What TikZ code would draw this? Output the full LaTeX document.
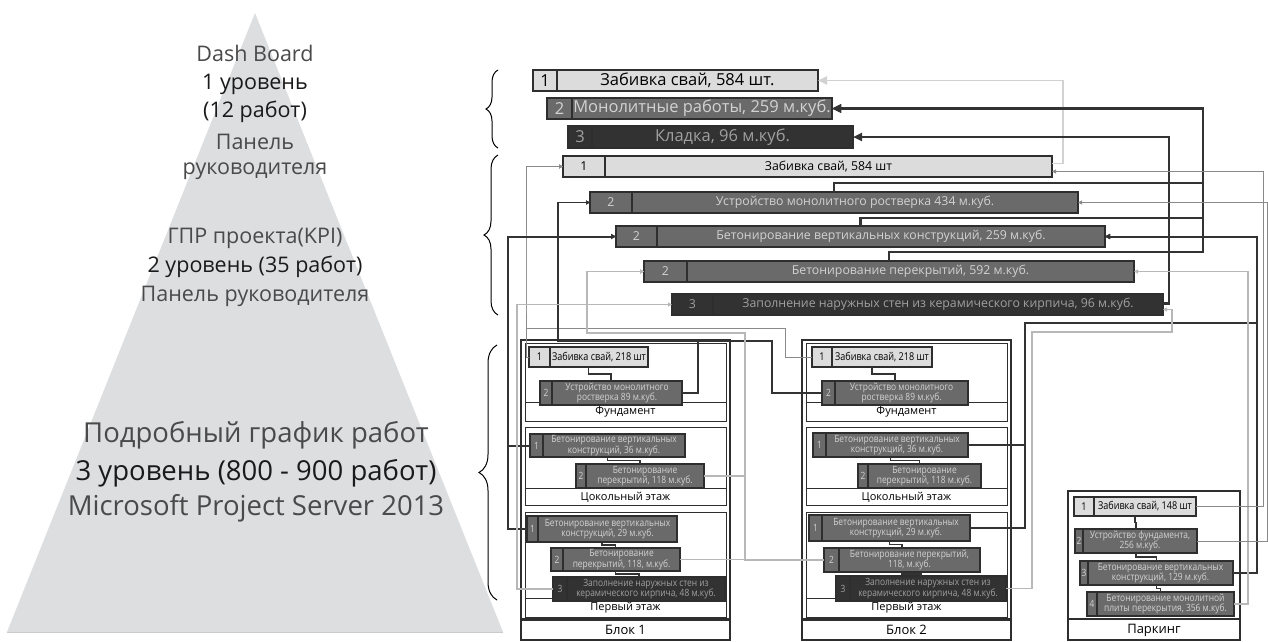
\documentclass[tikz,border=0pt]{standalone}
\usepackage{fontspec}
\setmainfont{Open Sans}
\newfontfamily\itemfont[FakeStretch=0.84]{Open Sans}
\usetikzlibrary{calc,decorations.pathreplacing,arrows.meta}
\definecolor{pyr}{HTML}{DDDEE0}
\definecolor{barL}{HTML}{DCDCDC}
\definecolor{barM}{HTML}{6A6A6A}
\definecolor{barD}{HTML}{323232}
\definecolor{txtM}{HTML}{D2D2D2}
\definecolor{txtD}{HTML}{A0A0A0}
\definecolor{edge}{HTML}{2E2E2E}
\definecolor{lnDark}{HTML}{333333}
\definecolor{lnGrey}{HTML}{8A8A8A}
\definecolor{lnLight}{HTML}{B8B8B8}
\definecolor{lnPale}{HTML}{D2D2D2}
\definecolor{pyrL}{HTML}{4A4A4A}
\definecolor{pyrD}{HTML}{1A1A1A}
\newcommand\fsz[2]{\fontsize{#1}{#2}\selectfont}
\newcommand\wbar[9]{%
  \node[barbox,#2,anchor=north west,minimum width={(#5-#3)*1pt},minimum height={(#6-#4)*1pt}] (#1) at (#3,#4) {};
  \draw[draw=edge] (#7,#4) -- (#7,#6);
  \node[bartext,#2,fill=none] at ({(#3+#7)/2},{(#4+#6)/2}) {#8};
  \node[bartext,#2,fill=none] at ({(#7+#5)/2},{(#4+#6)/2}) {#9};
}
\newcommand\ilink[2]{\draw[ilinkst] (#1.south) -- ($(#1.south)!.5!(#1.south|-#2.north)$) -| (#2.north);}
\begin{document}
\begin{tikzpicture}[x=1pt,y=-1pt,
  barbox/.style={draw=edge,inner sep=0pt,outer sep=0pt},
  bartext/.style={inner sep=0pt,align=center},
  lightbar/.style={fill=barL,text=black},
  midbar/.style={fill=barM,text=txtM},
  darkbar/.style={fill=barD,text=txtD},
  big/.style={font=\itemfont\fsz{10.8}{11}},
  pL/.style={text=pyrL,inner sep=0pt},
  pD/.style={text=pyrD,inner sep=0pt},
  toA/.style={draw=lnDark,line width=2.2pt,-{Triangle[length=9pt,width=8pt]}},
  toApale/.style={draw=lnPale,line width=1.8pt,-{Triangle[length=9pt,width=8pt]}},
  cDark/.style={draw=lnDark,line width=1.5pt,-{Triangle[length=4pt,width=4pt]}},
  cDarkT/.style={draw=lnDark,line width=2pt,-{Triangle[length=5pt,width=5pt]}},
  cGrey/.style={draw=lnGrey,line width=1pt,-{Triangle[length=4pt,width=4pt]}},
  cLight/.style={draw=lnLight,line width=1.2pt,-{Triangle[length=4pt,width=4pt]}},
  ilinkst/.style={draw=lnDark,line width=1.2pt},
  frameO/.style={draw=edge,line width=2.2pt},
  frameI/.style={draw=edge,line width=1pt},
  flabel/.style={font=\fsz{11}{13},inner sep=0pt},
  blabel/.style={font=\fsz{13}{15},inner sep=0pt},
  brc/.style={draw=black,line width=1pt,decorate,decoration={brace,amplitude=#1}}
]
\useasboundingbox (0,0) rectangle (1268,641);
\fill[white] (0,0) rectangle (1268,641);

% ---------------- pyramid ----------------
\fill[pyr] (255,13) -- (503,632) -- (7,632) -- cycle;
\draw[pyr!80!gray,line width=0.6pt] (7,632) -- (503,632);
\begin{scope}[every node/.append style={font=\fsz{21.5}{24}}]
\node[pL] (t1) at (255,53) {Dash Board};
\node[pD] (t2) at (255,84) {1 уровень};
\node[pD] (t3) at (255,112) {(12 работ)};
\node[pL] (t4) at (255,142) {Панель};
\node[pL] (t5) at (255,171) {руководителя};
\node[pL] (t6) at (255,238) {ГПР проекта(KPI)};
\node[pD] (t7) at (255,267) {2 уровень (35 работ)};
\node[pL] (t8) at (255,296) {Панель руководителя};
\end{scope}
\begin{scope}[every node/.append style={font=\fsz{27.5}{30}}]
\node[pL] (t9) at (256,435) {Подробный график работ};
\node[pD] (t10) at (256,473) {3 уровень (800 - 900 работ)};
\node[pL] (t11) at (256,508) {Microsoft Project Server 2013};
\end{scope}

% ---------------- braces ----------------
\draw[brc=12pt] (498,148) -- (498,70);
\draw[brc=14pt] (498,315) -- (498,155);
\draw[brc=18pt] (497,600) -- (497,345);

% ---------------- level 1 bars ----------------
\begin{scope}[line width=1.8pt,every node/.append style={font=\fsz{16.5}{18}}]
\wbar{A1}{lightbar}{533}{70}{818}{91}{557}{1}{Забивка свай, 584 шт.}
\wbar{A2}{midbar}{547}{98}{832}{119}{572}{2}{Монолитные работы, 259 м.куб.}
\wbar{A3}{darkbar}{568}{126}{853}{148}{592}{3}{Кладка, 96 м.куб.}
\end{scope}

% ---------------- level 2 bars ----------------
\begin{scope}[line width=1.5pt,every node/.append style={font=\fsz{12.3}{13}}]
\wbar{B1}{lightbar}{563}{156}{1052}{177}{605}{1}{Забивка свай, 584 шт}
\wbar{B2}{midbar}{590}{192}{1078}{213}{632}{2}{Устройство монолитного ростверка 434 м.куб.}
\wbar{B3}{midbar}{616}{226}{1105}{247}{657}{2}{Бетонирование вертикальных конструкций, 259 м.куб.}
\wbar{B4}{midbar}{644}{261}{1134}{282}{687}{2}{Бетонирование перекрытий, 592 м.куб.}
\wbar{B5}{darkbar}{672}{294}{1163}{315}{713}{3}{Заполнение наружных стен из керамического кирпича, 96 м.куб.}
\end{scope}

% ---------------- frames ----------------
% block 1
\draw[frameI,fill=white] (525,343) rectangle (726,421);
\draw[frameI] (525,402) -- (726,402);
\draw[frameI,fill=white] (525,427) rectangle (726,505);
\draw[frameI] (525,488) -- (726,488);
\draw[frameI,fill=white] (525,512) rectangle (726,617);
\draw[frameI] (525,598) -- (726,598);
\draw[frameO] (521,340) rectangle (730,619);
\draw[frameO,line width=1.5pt,fill=white] (521,620) rectangle (730,640);
\node[flabel] (L1a) at (625.5,412) {Фундамент};
\node[flabel] (L2a) at (625.5,497) {Цокольный этаж};
\node[flabel] (L3a) at (625.5,608) {Первый этаж};
\node[blabel] (L4a) at (625.5,630) {Блок 1};
% block 2
\draw[frameI,fill=white] (806,343) rectangle (1007,421);
\draw[frameI] (806,402) -- (1007,402);
\draw[frameI,fill=white] (806,427) rectangle (1007,505);
\draw[frameI] (806,488) -- (1007,488);
\draw[frameI,fill=white] (806,512) rectangle (1007,617);
\draw[frameI] (806,598) -- (1007,598);
\draw[frameO] (802,340) rectangle (1011,619);
\draw[frameO,line width=1.5pt,fill=white] (802,620) rectangle (1011,640);
\node[flabel] (L1b) at (906.5,412) {Фундамент};
\node[flabel] (L2b) at (906.5,497) {Цокольный этаж};
\node[flabel] (L3b) at (906.5,608) {Первый этаж};
\node[blabel] (L4b) at (906.5,630) {Блок 2};
% parking
\draw[frameO,line width=1.5pt,fill=white] (1068,491) rectangle (1240,640);
\draw[frameO,line width=1.5pt] (1068,619) -- (1240,619);
\node[blabel] (L4c) at (1154,630) {Паркинг};

% ---------------- level 3 items ----------------
\begin{scope}[line width=1.3pt,every node/.append style={font=\itemfont\fsz{10}{10.4}}]
\wbar{F1a}{lightbar,big}{529}{347}{648}{367}{550}{1}{Забивка свай, 218 шт}
\wbar{F2a}{midbar}{540}{381}{682}{405}{552}{2}{Устройство монолитного\\ростверка 89 м.куб.}
\wbar{C1a}{midbar}{530}{434}{685}{457}{543}{1}{Бетонирование вертикальных\\конструкций, 36 м.куб.}
\wbar{C2a}{midbar}{576}{464}{704}{488}{586}{2}{Бетонирование\\перекрытий, 118 м.куб.}
\wbar{P1a}{midbar}{527}{516}{677}{542}{538}{1}{Бетонирование вертикальных\\конструкций, 29 м.куб.}
\wbar{P2a}{midbar}{551}{548}{680}{571}{563}{2}{Бетонирование\\перекрытий, 118, м.куб.}
\wbar{P3a}{darkbar}{553}{577}{725}{601}{567}{3}{Заполнение наружных стен из\\керамического кирпича, 48 м.куб.}
\wbar{F1b}{lightbar,big}{812}{347}{932}{367}{832}{1}{Забивка свай, 218 шт}
\wbar{F2b}{midbar}{822}{381}{968}{405}{835}{2}{Устройство монолитного\\ростверка 89 м.куб.}
\wbar{C1b}{midbar}{813}{433}{968}{457}{826}{1}{Бетонирование вертикальных\\конструкций, 36 м.куб.}
\wbar{C2b}{midbar}{858}{464}{981}{488}{868}{2}{Бетонирование\\перекрытий, 118 м.куб.}
\wbar{P1b}{midbar}{809}{515}{970}{541}{822}{1}{Бетонирование вертикальных\\конструкций, 29 м.куб.}
\wbar{P2b}{midbar}{824}{548}{980}{572}{839}{2}{Бетонирование перекрытий,\\118, м.куб.}
\wbar{P3b}{darkbar}{836}{576}{1006}{601}{850}{3}{Заполнение наружных стен из\\керамического кирпича, 48 м.куб.}
\wbar{K1}{lightbar,big}{1074}{497}{1196}{516}{1094}{1}{Забивка свай, 148 шт}
\wbar{K2}{midbar}{1075}{529}{1197}{553}{1083}{2}{Устройство фундамента,\\256 м.куб.}
\wbar{K3}{midbar}{1080}{561}{1233}{585}{1088}{3}{Бетонирование вертикальных\\конструкций, 129 м.куб.}
\wbar{K4}{midbar}{1087}{592}{1234}{616}{1097}{4}{Бетонирование монолитной\\плиты перекрытия, 356 м.куб.}
\end{scope}

% inner links
\ilink{F1a}{F2a}
\ilink{C1a}{C2a}
\ilink{P1a}{P2a}
\ilink{P2a}{P3a}
\ilink{F1b}{F2b}
\ilink{C1b}{C2b}
\ilink{P1b}{P2b}
\ilink{P2b}{P3b}
\ilink{K1}{K2}
\ilink{K2}{K3}
\ilink{K3}{K4}

% ---------------- level 2 -> level 1 ----------------
\draw[toApale] ([yshift=3pt]B1.east) -| (1063,120) |- (A1.east);
\draw[toA] (B2.north) |- (1203,183) |- (A2.east);
\draw[toA] (B3.north) |- (1203,218) |- (A2.east);
\draw[toA] (B4.north) |- (1203,252) |- (A2.east);
\draw[toA] ([yshift=1pt]B5.east) -| (1169,200) |- (A3.east);

% ---------------- level 3 -> level 2 (left side) ----------------
\draw[cGrey] (F1a.west) -| (526,300) |- (B1.west);
\draw[cGrey] (F1b.west) -| (785,328) -| (526,300) |- (B1.west);
\draw[cDark] (F2a.east) -| (698,341) -| (558,300) |- (B2.west);
\draw[cDark] (F2b.west) -| (772,341) -| (558,300) |- (B2.west);
\draw[cDarkT] (C1a.west) -| (508,400) |- (B3.west);
\draw[cDarkT] (P1a.west) -| (508,400) |- (B3.west);
\draw[cLight] (C2a.east) -| (745,333) -| (587,300) |- (B4.west);
\draw[cLight] (P2a.east) -| (745,333) -| (587,300) |- (B4.west);
\draw[cLight] (P2b.west) -| (745,333) -| (587,300) |- (B4.west);
\draw[cLight] (P3a.west) -| (517,400) |- (B5.west);

% ---------------- level 3 -> level 2 (right side) ----------------
\draw[cDarkT] (C1b.east) -| (1025,323) -| (1257,300) |- (B3.east);
\draw[cDarkT] (P1b.east) -| (1025,323) -| (1257,300) |- (B3.east);
\draw[cDarkT] (K3.east) -| (1257,300) |- (B3.east);
\draw[cLight] (P3b.east) -| (1032,332) -| (1172,320) |- ([yshift=-5pt]B5.east);
\draw[cLight] (K4.east) -| (1248,400) |- (B4.east);
\draw[cGrey] (K1.east) -| (1263,400) |- ([yshift=-5pt]B1.east);
\draw[cGrey] (K2.east) -| (1267,400) |- (B2.east);
\end{tikzpicture}
\end{document}
